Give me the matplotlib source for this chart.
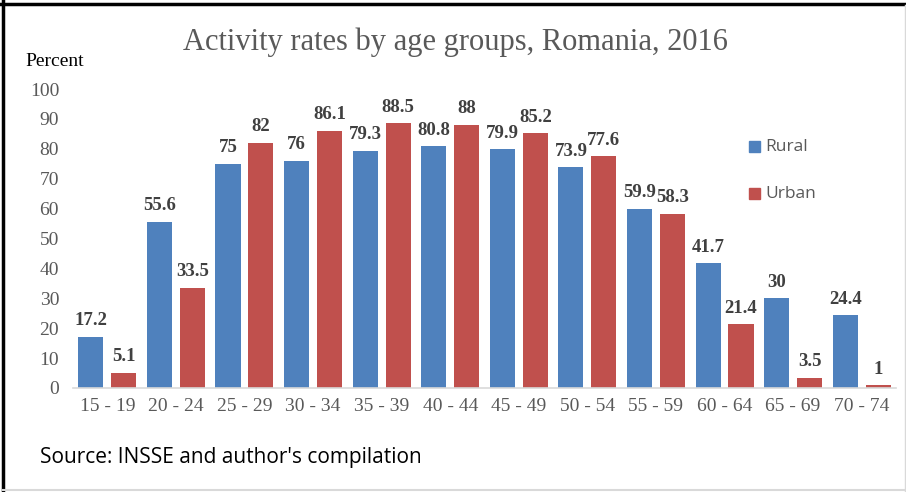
import matplotlib.pyplot as plt
import numpy as np
from matplotlib.lines import Line2D

age_groups = ['15 - 19', '20 - 24', '25 - 29', '30 - 34', '35 - 39', '40 - 44',
              '45 - 49', '50 - 54', '55 - 59', '60 - 64', '65 - 69', '70 - 74']
rural = [17.2, 55.6, 75, 76, 79.3, 80.8, 79.9, 73.9, 59.9, 41.7, 30, 24.4]
urban = [5.1, 33.5, 82, 86.1, 88.5, 88, 85.2, 77.6, 58.3, 21.4, 3.5, 1]
y_ticks = [0, 10, 20, 30, 40, 50, 60, 70, 80, 90, 100]

blue = '#4F81BD'
red = '#C0504D'
serif = 'Liberation Serif'

fig = plt.figure(figsize=(9.06, 4.92), dpi=100, facecolor='white')
ax = fig.add_axes([73 / 906, 1 - 388 / 492, 823 / 906, 299 / 492])

x = np.arange(len(age_groups))
w = 0.365
off = 0.24
bars_r = ax.bar(x - off, rural, w, color=blue, label='Rural')
bars_u = ax.bar(x + off, urban, w, color=red, label='Urban')

for bars, vals in ((bars_r, rural), (bars_u, urban)):
    for b, v in zip(bars, vals):
        ax.text(b.get_x() + b.get_width() / 2, v + 2.5, '{:g}'.format(v),
                ha='center', va='bottom', fontsize=13.5, fontweight='bold',
                family=serif, color='#404040')

ax.set_xlim(-0.5, len(age_groups) - 0.5)
ax.set_ylim(0, 100)
ax.set_xticks(x)
ax.set_xticklabels(age_groups, family=serif, fontsize=14, color='#595959')
ax.set_yticks(y_ticks)
ax.set_yticklabels([str(t) for t in y_ticks], family=serif, fontsize=14, color='#595959')
ax.tick_params(length=0)
ax.tick_params(axis='x', pad=7)
ax.tick_params(axis='y', pad=10)

# only the baseline is kept
for s in ('left', 'right', 'top'):
    ax.spines[s].set_visible(False)
ax.spines['bottom'].set_color('#D9D9D9')
ax.spines['bottom'].set_linewidth(1.2)

fig.text(455 / 906, 1 - 42 / 492, 'Activity rates by age groups, Romania, 2016',
         ha='center', va='center', family=serif, fontsize=22, color='#595959')
fig.text(25 / 906, 1 - 62 / 492, 'Percent', ha='left', va='center',
         family=serif, fontsize=14, color='black')
fig.text(40 / 906, 1 - 458 / 492, "Source: INSSE and author's compilation",
         ha='left', va='center', family='Open Sans', fontsize=15, color='black')

# legend entries stacked on the right
for name, col, yy in (('Rural', blue, 147), ('Urban', red, 194)):
    fig.patches.append(plt.Rectangle((749 / 906, 1 - (yy + 5) / 492), 11 / 906, 11 / 492,
                                     transform=fig.transFigure, color=col))
    fig.text(765 / 906, 1 - yy / 492, name, ha='left', va='center',
             family='Open Sans', fontsize=12.5, color='#595959')

# frame around the figure
fig.add_artist(Line2D([0, 1], [1 - 4 / 492] * 2, color='black', lw=2.5, transform=fig.transFigure))
fig.add_artist(Line2D([3 / 906] * 2, [0, 1], color='black', lw=2.5, transform=fig.transFigure))
fig.add_artist(Line2D([905 / 906] * 2, [0, 1 - 5 / 492], color='#D9D9D9', lw=1, transform=fig.transFigure))
fig.add_artist(Line2D([3 / 906, 1], [2 / 492] * 2, color='#D9D9D9', lw=1.5, transform=fig.transFigure))

fig.savefig('out.png', dpi=100, facecolor='white')
